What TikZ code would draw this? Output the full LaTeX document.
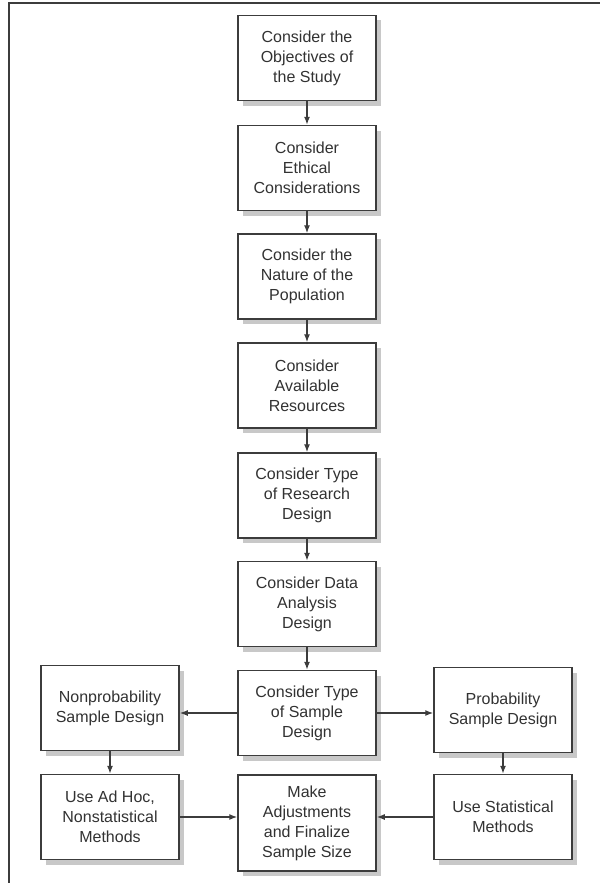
\documentclass[tikz,border=0pt]{standalone}
\usepackage{fontspec}
\setmainfont{Liberation Sans}
\usepackage{xcolor}
\usepackage{tikz}
\usetikzlibrary{arrows.meta,positioning,shadows,calc}
\definecolor{boxline}{RGB}{60,60,60}
\definecolor{boxtext}{RGB}{50,50,50}
\definecolor{shadowgray}{RGB}{200,200,200}
\tikzset{
  stepbox/.style={draw=boxline,line width=1.5pt,fill=white,align=center,
    text=boxtext,minimum width=138pt,minimum height=85pt,inner sep=2pt,
    font=\fontsize{16}{20}\selectfont,
    drop shadow={shadow xshift=5pt,shadow yshift=-5pt,fill=shadowgray,opacity=1}},
  flow/.style={draw=boxline,line width=1.3pt,-{Latex[length=8pt,width=6pt]}},
  frame/.style={draw=boxline,line width=1.5pt}
}
\begin{document}
\begin{tikzpicture}[x=1pt,y=-1pt]
  \useasboundingbox (0,0) rectangle (600,883);
  \draw[frame] (9,883) -- (9,3) -- (600,3);
  % main column
  \node[stepbox] (objectives) at (307,58) {Consider the\\Objectives of\\the Study};
  \node[stepbox] (ethics) at (307,168) {Consider\\Ethical\\Considerations};
  \node[stepbox] (population) at (307,276.5) {Consider the\\Nature of the\\Population};
  \node[stepbox] (resources) at (307,385.5) {Consider\\Available\\Resources};
  \node[stepbox] (research) at (307,495.5) {Consider Type\\of Research\\Design};
  \node[stepbox] (analysis) at (307,604) {Consider Data\\Analysis\\Design};
  \node[stepbox] (sampletype) at (307,713) {Consider Type\\of Sample\\Design};
  \node[stepbox,minimum height=96pt] (finalize) at (307,823) {Make\\Adjustments\\and Finalize\\Sample Size};
  % side branches
  \node[stepbox] (nonprob) at (110,708) {Nonprobability\\Sample Design};
  \node[stepbox] (adhoc) at (110,817) {Use Ad Hoc,\\Nonstatistical\\Methods};
  \node[stepbox] (prob) at (503,710) {Probability\\Sample Design};
  \node[stepbox] (statistical) at (503,817) {Use Statistical\\Methods};
  \foreach \a/\b in {objectives/ethics,ethics/population,population/resources,
      resources/research,research/analysis,analysis/sampletype,
      nonprob/adhoc,prob/statistical}
    \draw[flow] (\a) -- (\b);
  \draw[flow] (sampletype.west) -- (sampletype.west -| nonprob.east);
  \draw[flow] (sampletype.east) -- (sampletype.east -| prob.west);
  \draw[flow] (adhoc.east) -- (adhoc.east -| finalize.west);
  \draw[flow] (statistical.west) -- (statistical.west -| finalize.east);
\end{tikzpicture}
\end{document}
